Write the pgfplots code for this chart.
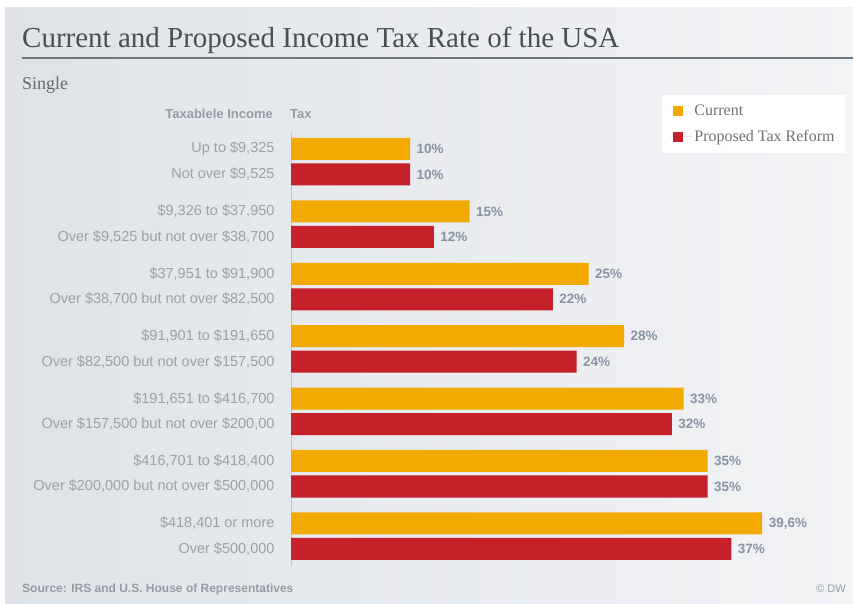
\documentclass[border=0pt]{standalone}
\usepackage{fontspec}
\setmainfont{Liberation Serif}
\setsansfont{Liberation Sans}
\usepackage{pgfplots}
\pgfplotsset{compat=1.18}

\definecolor{cur}{HTML}{F2A900}
\definecolor{prop}{HTML}{C6202B}
\definecolor{bgl}{HTML}{DFE3E8}
\definecolor{bgr}{HTML}{F2F3F5}
\definecolor{ttl}{HTML}{4A4F56}
\definecolor{lbl}{HTML}{9BA1A8}
\definecolor{val}{HTML}{8693A2}
\definecolor{hdr}{HTML}{959CA5}
\definecolor{rulec}{HTML}{71767D}

\pgfplotsset{sqlegend/.style={legend image code/.code={%
  \path (-3bp,0) -- (19bp,0);
  \fill[##1] (0bp,-5bp) rectangle (10bp,5bp);}}}

\begin{document}
\begin{tikzpicture}
\useasboundingbox (0,0) rectangle (853bp,604bp);
\fill[white] (0,0) rectangle (853bp,604bp);
\shade[left color=bgl, right color=bgr] (5bp,0) rectangle (853bp,596bp);

% title block
\node[anchor=base west, inner sep=0, text=ttl, font=\fontsize{29bp}{33bp}\selectfont] at (22bp,556bp) {Current and Proposed Income Tax Rate of the USA};
\draw[rulec, line width=1.5bp] (22bp,546bp) -- (853bp,546bp);
\node[anchor=base west, inner sep=0, text=ttl!85, font=\fontsize{18bp}{21bp}\selectfont] at (22bp,514bp) {Single};
\node[anchor=base east, inner sep=0, text=hdr, font=\fontsize{13bp}{15bp}\sffamily\bfseries] at (273bp,485bp) {Taxablele Income};
\node[anchor=base west, inner sep=0, text=hdr, font=\fontsize{13bp}{15bp}\sffamily\bfseries] at (290bp,485bp) {Tax};

\begin{axis}[
    at={(291bp,0bp)}, anchor=south west,
    x=11.9bp, y=1bp,
    xmin=0, xmax=47, ymin=0, ymax=604,
    enlargelimits=false,
    clip=false,
    xbar, bar width=22bp, bar shift=0pt,
    axis line style={draw=none},
    tick style={draw=none},
    major tick length=0pt,
    xtick=\empty,
    ytick={55.1,80.6,117.5,143.0,179.9,205.4,242.3,267.8,304.7,330.2,367.1,392.6,429.5,455},
    yticklabels={
      {Over \$500,000},
      {\$418,401 or more},
      {Over \$200,000 but not over \$500,000},
      {\$416,701 to \$418,400},
      {Over \$157,500 but not over \$200,00},
      {\$191,651 to \$416,700},
      {Over \$82,500 but not over \$157,500},
      {\$91,901 to \$191,650},
      {Over \$38,700 but not over \$82,500},
      {\$37,951 to \$91,900},
      {Over \$9,525 but not over \$38,700},
      {\$9,326 to \$37,950},
      {Not over \$9,525},
      {Up to \$9,325}},
    yticklabel style={font=\fontsize{14.5bp}{16bp}\sffamily, text=lbl, xshift=-13bp},
    /pgf/number format/assume math mode=true,
    point meta=x,
    nodes near coords={\pgfmathprintnumber[use comma]{\pgfplotspointmeta}\%},
    nodes near coords style={font=\fontsize{13.5bp}{15bp}\sffamily\bfseries, text=val, anchor=west, xshift=3bp},
    legend style={at={(0.6637,0.8427)}, anchor=north west, fill=white, draw=none,
      font=\fontsize{16bp}{19bp}\selectfont, text=ttl!80,
      inner xsep=8bp, inner ysep=8bp, row sep=9bp},
    legend cell align=left,
  ]
  \draw[lbl!60, line width=1bp] (axis cs:0,38) -- (axis cs:0,472);

  \addplot[fill=cur, draw=none, bar shift=0pt, sqlegend]
    coordinates {(10,455) (15,392.6) (25,330.2) (28,267.8) (33,205.4) (35,143.0) (39.6,80.6)};
  \addlegendentry{Current}

  \addplot[fill=prop, draw=none, bar shift=0pt, sqlegend]
    coordinates {(10,429.5) (12,367.1) (22,304.7) (24,242.3) (32,179.9) (35,117.5) (37,55.1)};
  \addlegendentry{Proposed Tax Reform}
\end{axis}

% footer
\node[anchor=base west, inner sep=0, text=hdr, font=\fontsize{12bp}{14bp}\sffamily\bfseries] at (22bp,12bp) {Source: IRS and U.S. House of Representatives};
\node[anchor=base east, inner sep=0, text=hdr, font=\fontsize{11bp}{13bp}\sffamily] at (846bp,12bp) {\textcopyright\ DW};
\end{tikzpicture}
\end{document}
